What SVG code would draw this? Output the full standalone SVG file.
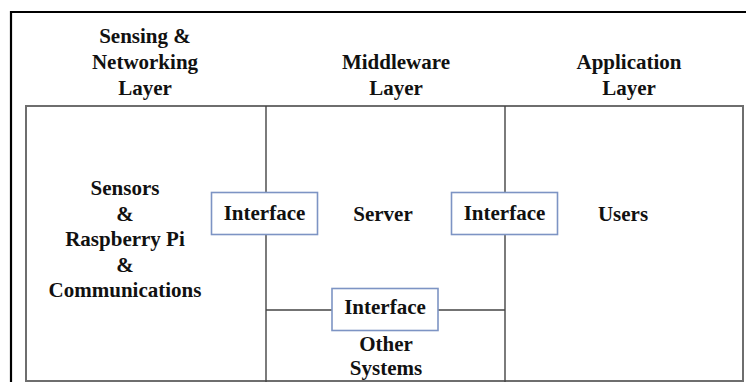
<svg xmlns="http://www.w3.org/2000/svg" width="746" height="382" viewBox="0 0 746 382">
  <style>
    .t { font-family: "Liberation Serif", "Times New Roman", serif; font-weight: bold; font-size: 21px; fill: #111; text-anchor: middle; }
    .frame { fill: none; stroke: #000; stroke-width: 2.2; }
    .panel { fill: none; stroke: #6e6e6e; stroke-width: 2; }
    .div { fill: none; stroke: #444; stroke-width: 1.4; }
    .iface { fill: #fff; stroke: #7d94c4; stroke-width: 1.6; }
  </style>
  <rect width="746" height="382" fill="#fff"/>

  <!-- outer frame (continues past the right and bottom edges) -->
  <path class="frame" d="M11,383 V12 H747"/>

  <!-- layer headings -->
  <g id="heading-sensing">
    <text class="t" x="145" y="43">Sensing &amp;</text>
    <text class="t" x="145" y="69">Networking</text>
    <text class="t" x="145" y="95">Layer</text>
  </g>
  <g id="heading-middleware">
    <text class="t" x="396" y="69">Middleware</text>
    <text class="t" x="396" y="95">Layer</text>
  </g>
  <g id="heading-application">
    <text class="t" x="629" y="69">Application</text>
    <text class="t" x="629" y="95">Layer</text>
  </g>

  <!-- main panel -->
  <rect class="panel" x="26" y="106" width="717" height="275"/>

  <!-- dividers between layers -->
  <g id="connectors">
    <line class="div" x1="266" y1="106" x2="266" y2="382"/>
    <line class="div" x1="505" y1="106" x2="505" y2="382"/>
    <line class="div" x1="266" y1="310" x2="505" y2="310"/>
  </g>

  <!-- layer contents -->
  <g id="sensors">
    <text class="t" x="125" y="195">Sensors</text>
    <text class="t" x="125" y="221">&amp;</text>
    <text class="t" x="125" y="246">Raspberry Pi</text>
    <text class="t" x="125" y="272">&amp;</text>
    <text class="t" x="125" y="297">Communications</text>
  </g>
  <g id="server">
    <text class="t" x="383" y="221">Server</text>
  </g>
  <g id="users">
    <text class="t" x="623" y="221">Users</text>
  </g>
  <g id="other-systems">
    <text class="t" x="386" y="351">Other</text>
    <text class="t" x="386" y="375">Systems</text>
  </g>

  <!-- interface boxes -->
  <g id="interface-left">
    <rect class="iface" x="211.5" y="192.5" width="106" height="42"/>
    <text class="t" x="264.5" y="220">Interface</text>
  </g>
  <g id="interface-right">
    <rect class="iface" x="451.5" y="192.5" width="106" height="42"/>
    <text class="t" x="504.5" y="220">Interface</text>
  </g>
  <g id="interface-bottom">
    <rect class="iface" x="332" y="288.5" width="106" height="42"/>
    <text class="t" x="385" y="314">Interface</text>
  </g>
</svg>
